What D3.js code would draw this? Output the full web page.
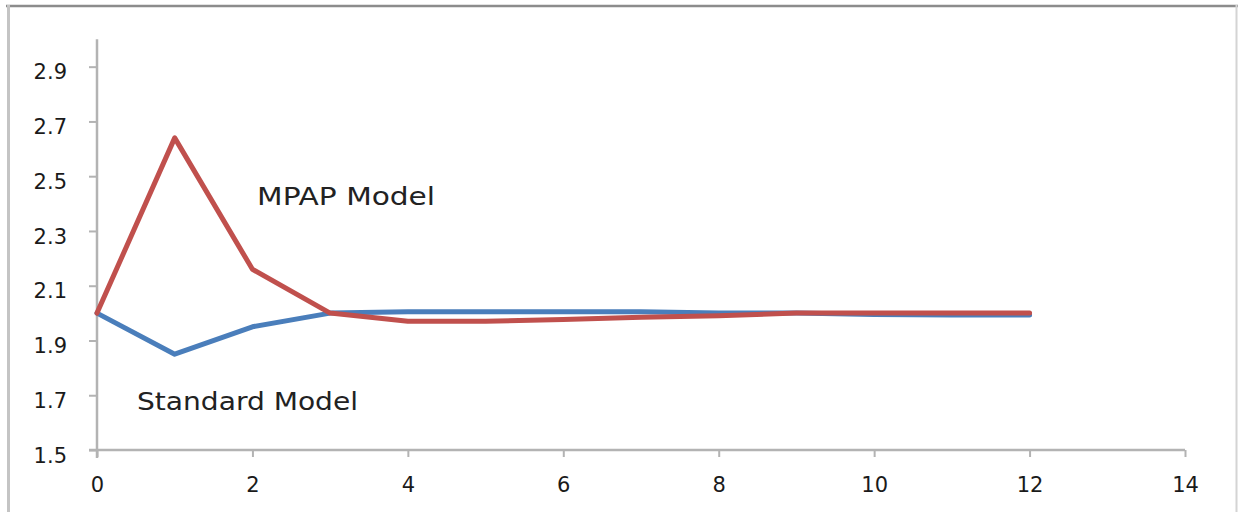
<!DOCTYPE html>
<html>
<head>
<meta charset="utf-8">
<script src="https://cdn.jsdelivr.net/npm/d3@7/dist/d3.min.js"></script>
<style>
  html, body { margin: 0; padding: 0; background: #fff; }
  svg { display: block; }
</style>
</head>
<body>
<svg id="chart" width="1238" height="512"></svg>
<script>
// ---- data ----
const xValues = [0, 1, 2, 3, 4, 5, 6, 7, 8, 9, 10, 11, 12];
const mpapValues = [2.0, 2.64, 2.16, 2.0, 1.97, 1.97, 1.977, 1.985, 1.99, 2.0, 2.0, 2.0, 2.0];
const standardValues = [2.0, 1.85, 1.95, 2.0, 2.005, 2.005, 2.005, 2.005, 2.0, 2.0, 1.995, 1.993, 1.993];
const xTicks = [0, 2, 4, 6, 8, 10, 12, 14];
const yTicks = [1.5, 1.7, 1.9, 2.1, 2.3, 2.5, 2.7, 2.9];
const seriesNames = ["MPAP Model", "Standard Model"];
const labelX = [2.06, 0.515];
const labelY = [2.395, 1.646];

// ---- layout ----
const svg = d3.select("#chart");
const x = d3.scaleLinear().domain([0, 14]).range([97, 1185]);
const y = d3.scaleLinear().domain([1.5, 3.0]).range([450, 39.3]);

// outer frame
svg.append("line").attr("x1", 6).attr("x2", 1238).attr("y1", 6).attr("y2", 6)
  .attr("stroke", "#8c8c8c").attr("stroke-width", 2.5);
svg.append("line").attr("x1", 8.5).attr("x2", 8.5).attr("y1", 5).attr("y2", 512)
  .attr("stroke", "#c4c4c4").attr("stroke-width", 3);
svg.append("line").attr("x1", 1236.5).attr("x2", 1236.5).attr("y1", 5).attr("y2", 512)
  .attr("stroke", "#d4d4d4").attr("stroke-width", 2);

const axisColor = "#b3b3b3";
const font = "'DejaVu Sans', Verdana, sans-serif";

// y axis
const yAxis = svg.append("g").attr("transform", `translate(${x(0)},0)`)
  .call(d3.axisLeft(y).tickValues(yTicks).tickFormat(d3.format(".1f")).tickSize(8).tickPadding(22));
yAxis.select(".domain").attr("stroke", axisColor).attr("stroke-width", 2.5)
  .attr("d", `M0,${y(3.0)}V${y(1.5) + 8}`);
yAxis.selectAll(".tick line").attr("stroke", axisColor).attr("stroke-width", 2);
yAxis.selectAll(".tick text").attr("fill", "#1a1a1a").style("font-family", font)
  .style("font-size", "21px").attr("dy", "0.58em");

// x axis
const xAxis = svg.append("g").attr("transform", `translate(0,${y(1.5)})`)
  .call(d3.axisBottom(x).tickValues(xTicks).tickFormat(d3.format("d")).tickSize(7).tickPadding(20));
xAxis.select(".domain").attr("stroke", axisColor).attr("stroke-width", 2.5)
  .attr("d", `M${x(0) - 8},0H${x(14)}`);
xAxis.selectAll(".tick line").attr("stroke", axisColor).attr("stroke-width", 2);
xAxis.selectAll(".tick text").attr("fill", "#1a1a1a").style("font-family", font)
  .style("font-size", "21px");

// lines
const line = d3.line().x((d, i) => x(xValues[i])).y(d => y(d));
svg.append("path").datum(standardValues).attr("d", line)
  .attr("fill", "none").attr("stroke", "#4a7ebb").attr("stroke-width", 5)
  .attr("stroke-linejoin", "round").attr("stroke-linecap", "round");
svg.append("path").datum(mpapValues).attr("d", line)
  .attr("fill", "none").attr("stroke", "#c0504d").attr("stroke-width", 5)
  .attr("stroke-linejoin", "round").attr("stroke-linecap", "round");

// annotations
const labelWidths = [178, 221];
seriesNames.forEach((name, i) => {
  svg.append("text").attr("x", x(labelX[i])).attr("y", y(labelY[i]))
    .text(name).attr("fill", "#222")
    .style("font-family", font).style("font-size", "24px")
    .attr("textLength", labelWidths[i]).attr("lengthAdjust", "spacingAndGlyphs");
});
</script>
</body>
</html>
